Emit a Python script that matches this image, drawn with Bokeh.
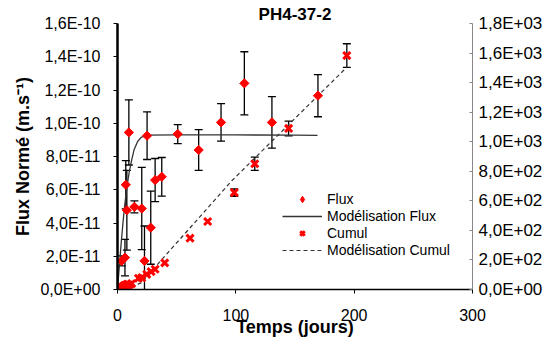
import numpy as np
from bokeh.plotting import figure
from bokeh.models import (Range1d, LinearAxis, FixedTicker, CustomJSTickFormatter,
                          ColumnDataSource, Whisker, TeeHead, Legend, LegendItem, Title)
from bokeh.embed import file_html
from bokeh.resources import INLINE

# ---------------- data ----------------
title_text = "PH4-37-2"
x_label = "Temps (jours)"
y_label = "Flux Normé (m.s⁻¹)"

x_ticks = [0, 100, 200, 300]
left_ticks = [0, 2e-11, 4e-11, 6e-11, 8e-11, 1e-10, 1.2e-10, 1.4e-10, 1.6e-10]
left_labels = ["0,0E+00", "2,0E-11", "4,0E-11", "6,0E-11", "8,0E-11",
               "1,0E-10", "1,2E-10", "1,4E-10", "1,6E-10"]
right_ticks = [0, 200, 400, 600, 800, 1000, 1200, 1400, 1600, 1800]
right_labels = ["0,0E+00", "2,0E+02", "4,0E+02", "6,0E+02", "8,0E+02",
                "1,0E+03", "1,2E+03", "1,4E+03", "1,6E+03", "1,8E+03"]

# Flux (diamonds), in m/s
flux_t = [0.5, 1.5, 2.5, 3.5, 5.0, 6.5, 3.5, 6.3, 7.0, 7.9, 9.6, 14.3, 20.5, 22.8, 25.0,
          28.1, 31.8, 37.4, 50.9, 68.6, 87.5, 107.2, 130.5, 169.4]
flux_v = [0.05e-11, 0.1e-11, 0.15e-11, 0.2e-11, 0.25e-11, 0.3e-11, 1.72e-11, 1.92e-11,
          6.30e-11, 4.77e-11, 9.45e-11, 4.97e-11, 4.87e-11, 1.72e-11, 9.25e-11,
          3.72e-11, 6.58e-11, 6.78e-11, 9.35e-11, 8.39e-11, 10.05e-11, 12.4e-11,
          10.05e-11, 11.66e-11]
flux_err = [0, 0, 0, 0, 0, 0, 0.3e-11, 1.1e-11, 1.45e-11, 2.4e-11, 1.96e-11, 0.36e-11,
            2.47e-11, 2.1e-11, 1.43e-11, 2.2e-11, 1.3e-11, 1.16e-11, 0.57e-11,
            1.23e-11, 1.13e-11, 1.9e-11, 1.55e-11, 1.27e-11]

# Cumul (crosses), right axis
cumul_t = [0.5, 1.5, 2.5, 3.5, 5.0, 6.5, 8.0, 10.0, 12.0, 17.7, 20.5, 24.7, 28.4, 31.8,
           39.9, 61.3, 76.2, 98.7, 116.0, 144.6, 193.8]
cumul_v = [3, 6, 10, 14, 18, 22, 27, 32, 40, 76, 80, 103, 121, 137,
           180, 347, 460, 656, 851, 1090, 1583]
cumul_err = [0, 0, 0, 0, 0, 0, 0, 0, 0, 0, 0, 0, 0, 0,
             0, 0, 0, 25, 45, 50, 80]

# Model curves
mflux_t = [0, 1, 2, 3, 4, 5, 6, 8, 10, 12, 14, 17, 20, 25, 50, 100, 150, 169]
mflux_v = [0, 0.9e-11, 1.8e-11, 2.7e-11, 3.5e-11, 4.3e-11, 5.0e-11, 6.2e-11, 7.1e-11,
           7.8e-11, 8.4e-11, 8.9e-11, 9.15e-11, 9.28e-11, 9.3e-11, 9.3e-11, 9.28e-11, 9.27e-11]
mcumul_t = [0, 10, 20, 96.6, 193.8]
mcumul_v = [0, 15, 45, 736, 1504]

# ---------------- figure ----------------
FONT = "Liberation Sans"

p = figure(width=554, height=347, output_backend="svg", toolbar_location=None,
           x_range=Range1d(0, 300), y_range=Range1d(0, 1.6e-10),
           min_border_left=117, min_border_right=82, min_border_top=23, min_border_bottom=58,
           outline_line_color=None, background_fill_color="white", border_fill_color="white")
p.title = Title(text=title_text, align="center", offset=-10, standoff=0,
                text_font=FONT, text_font_style="bold", text_font_size="17px",
                text_color="black")
p.xgrid.visible = False
p.ygrid.visible = False
p.extra_y_ranges = {"cumul": Range1d(0, 1800)}

fmt_code = """
let best = 0; let bd = Infinity;
for (let i = 0; i < tv.length; i++) {
  const d = Math.abs(tv[i] - tick);
  if (d < bd) { bd = d; best = i; }
}
return lv[best];
"""

# bottom axis
xa = p.xaxis[0]
xa.ticker = FixedTicker(ticks=x_ticks)
xa.axis_label = x_label
xa.axis_label_text_font = FONT
xa.axis_label_text_font_style = "bold"
xa.axis_label_text_font_size = "18px"
xa.axis_label_text_color = "black"
xa.axis_label_standoff = -7
xa.major_label_text_font = FONT
xa.major_label_text_font_size = "16px"
xa.major_label_text_color = "black"
xa.major_label_standoff = 15
xa.axis_line_color = "black"
xa.axis_line_width = 1.5
xa.major_tick_line_color = "black"
xa.major_tick_out = 4
xa.major_tick_in = 0
xa.minor_tick_line_color = None

# left axis
ya = p.yaxis[0]
ya.ticker = FixedTicker(ticks=left_ticks)
ya.formatter = CustomJSTickFormatter(args=dict(tv=left_ticks, lv=left_labels), code=fmt_code)
ya.axis_label = y_label
ya.axis_label_text_font = FONT
ya.axis_label_text_font_style = "bold"
ya.axis_label_text_font_size = "18px"
ya.axis_label_text_color = "black"
ya.axis_label_standoff = 4
ya.major_label_text_font = FONT
ya.major_label_text_font_size = "16px"
ya.major_label_text_color = "black"
ya.major_label_standoff = 13
ya.axis_line_color = "black"
ya.axis_line_width = 2.5
ya.major_tick_line_color = "black"
ya.major_tick_out = 4
ya.major_tick_in = 0
ya.minor_tick_line_color = None

# right axis
ra = LinearAxis(y_range_name="cumul", ticker=FixedTicker(ticks=right_ticks),
                formatter=CustomJSTickFormatter(args=dict(tv=right_ticks, lv=right_labels),
                                                code=fmt_code))
ra.major_label_text_font = FONT
ra.major_label_text_font_size = "17px"
ra.major_label_text_color = "black"
ra.major_label_standoff = 6
ra.axis_line_color = "#888888"
ra.axis_line_width = 1
ra.major_tick_line_color = "#888888"
ra.major_tick_in = 3
ra.major_tick_out = 0
ra.minor_tick_line_color = None
p.add_layout(ra, "right")

# error bars
fsrc = ColumnDataSource(dict(x=flux_t, y=flux_v))
ferr_src = ColumnDataSource(dict(x=[t for t, e in zip(flux_t, flux_err) if e > 0],
                                 lo=[v - e for v, e in zip(flux_v, flux_err) if e > 0],
                                 hi=[v + e for v, e in zip(flux_v, flux_err) if e > 0]))
p.add_layout(Whisker(source=ferr_src, base="x", lower="lo", upper="hi",
                     line_color="black", line_width=1.3,
                     lower_head=TeeHead(size=8, line_color="black", line_width=1.3),
                     upper_head=TeeHead(size=8, line_color="black", line_width=1.3)))

cerr_src = ColumnDataSource(dict(x=[t for t, e in zip(cumul_t, cumul_err) if e > 0],
                                 lo=[v - e for v, e in zip(cumul_v, cumul_err) if e > 0],
                                 hi=[v + e for v, e in zip(cumul_v, cumul_err) if e > 0]))
p.add_layout(Whisker(source=cerr_src, base="x", lower="lo", upper="hi", y_range_name="cumul",
                     line_color="black", line_width=1.3,
                     lower_head=TeeHead(size=8, line_color="black", line_width=1.3),
                     upper_head=TeeHead(size=8, line_color="black", line_width=1.3)))

# model lines
r_mflux = p.line(mflux_t, mflux_v, line_color="#333333", line_width=1.3)
r_mcumul = p.line(mcumul_t, mcumul_v, y_range_name="cumul", line_color="#333333",
                  line_width=1.2, line_dash="4 3")

# markers
r_cumul = p.scatter(cumul_t, cumul_v, y_range_name="cumul", marker="x", size=10,
                    line_color="#ff0000", line_width=3)
r_flux = p.scatter("x", "y", source=fsrc, marker="square", angle=np.pi / 4, size=6.5,
                   fill_color="#ff0000", line_color="#ff0000", line_width=1)
# legend-only diamond glyph (placed outside the visible range)
r_flux_leg = p.scatter([-100], [-1e-10], marker="diamond", size=12,
                       fill_color="#ff0000", line_color="#ff0000", line_width=1)

# legend
legend = Legend(items=[LegendItem(label="Flux", renderers=[r_flux_leg]),
                       LegendItem(label="Modélisation Flux", renderers=[r_mflux]),
                       LegendItem(label="Cumul", renderers=[r_cumul]),
                       LegendItem(label="Modélisation Cumul", renderers=[r_mcumul])],
                location=(165, 31), padding=0, margin=0, spacing=1,
                glyph_width=40, glyph_height=16, label_height=16, label_standoff=5,
                label_text_font=FONT, label_text_font_size="14px", label_text_color="black",
                border_line_color=None, background_fill_alpha=0)
p.add_layout(legend)

open("out.html", "w").write(file_html(p, INLINE))
